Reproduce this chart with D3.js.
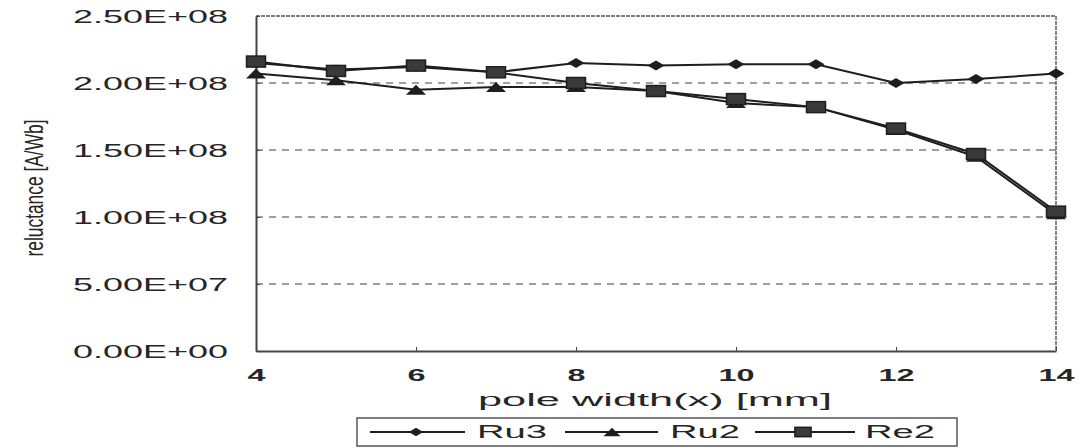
<!DOCTYPE html>
<html>
<head>
<meta charset="utf-8">
<script src="https://cdn.jsdelivr.net/npm/d3@7"></script>
<style>
  html, body { margin: 0; padding: 0; background: #ffffff; }
  svg { display: block; font-family: "Liberation Sans", Arial, sans-serif; }
</style>
</head>
<body>
<svg id="chart" width="1079" height="448"></svg>
<script>
// ---- data ----
const poleWidth = [4, 5, 6, 7, 8, 9, 10, 11, 12, 13, 14];
const ru3 = [2.15e8, 2.10e8, 2.12e8, 2.08e8, 2.15e8, 2.13e8, 2.14e8, 2.14e8, 2.00e8, 2.03e8, 2.07e8];
const ru2 = [2.07e8, 2.02e8, 1.95e8, 1.97e8, 1.97e8, 1.94e8, 1.85e8, 1.82e8, 1.65e8, 1.45e8, 1.02e8];
const re2 = [2.16e8, 2.09e8, 2.13e8, 2.08e8, 2.00e8, 1.94e8, 1.88e8, 1.82e8, 1.66e8, 1.47e8, 1.04e8];
const seriesNames = ["Ru3", "Ru2", "Re2"];
const yTicks = [0, 5e7, 1e8, 1.5e8, 2e8, 2.5e8];
const xTicks = [4, 6, 8, 10, 12, 14];
const yGridTicks = [5e7, 1e8, 1.5e8, 2e8];

// ---- layout ----
const svg = d3.select("#chart");
const plot = { left: 256, top: 16, right: 1056, bottom: 351 };
const x = d3.scaleLinear().domain([4, 14]).range([plot.left, plot.right]);
const y = d3.scaleLinear().domain([0, 2.5e8]).range([plot.bottom, plot.top]);
const ink = "#1e1e1e";
const textInk = "#262626";

function fmtE(v) {
  const [m, e] = v.toExponential(2).split("e");
  const sign = e[0] === "-" ? "-" : "+";
  const digits = e.replace(/[+-]/, "").padStart(2, "0");
  return m + "E" + sign + digits;
}

// gridlines
svg.append("g").selectAll("line").data(yGridTicks).join("line")
  .attr("x1", plot.left).attr("x2", plot.right)
  .attr("y1", d => y(d)).attr("y2", d => y(d))
  .attr("stroke", "#808080").attr("stroke-width", 1.6)
  .attr("stroke-dasharray", "7,6");

// frame (top/right)
svg.append("line").attr("x1", plot.left).attr("x2", plot.right)
  .attr("y1", plot.top).attr("y2", plot.top)
  .attr("stroke", "#555").attr("stroke-width", 1.4).attr("stroke-dasharray", "4,1");
svg.append("line").attr("x1", plot.right).attr("x2", plot.right)
  .attr("y1", plot.top).attr("y2", plot.bottom)
  .attr("stroke", "#555").attr("stroke-width", 1.4).attr("stroke-dasharray", "4,1");

// y axis
const yAxis = svg.append("g").attr("transform", `translate(${plot.left},0)`)
  .call(d3.axisLeft(y).tickValues(yTicks).tickFormat(fmtE).tickSizeInner(-4).tickSizeOuter(0).tickPadding(28));
yAxis.select(".domain").attr("stroke", "#444").attr("stroke-width", 2);
yAxis.selectAll(".tick line").attr("stroke", "#444");
yAxis.selectAll("text")
  .attr("font-size", 17.5).attr("fill", textInk)
  .attr("textLength", 155).attr("lengthAdjust", "spacingAndGlyphs")
  .attr("text-anchor", "start").attr("x", -28 - 155).attr("dy", "0.36em");

// x axis
const xAxis = svg.append("g").attr("transform", `translate(0,${plot.bottom})`)
  .call(d3.axisBottom(x).tickValues(xTicks).tickFormat(d3.format("d")).tickSizeInner(-4).tickSizeOuter(0).tickPadding(0));
xAxis.select(".domain").attr("stroke", "#444").attr("stroke-width", 2);
xAxis.selectAll(".tick line").attr("stroke", "#444");
xAxis.selectAll("text")
  .attr("font-size", 16).attr("fill", textInk).attr("font-weight", "bold")
  .attr("y", 24).attr("dy", "0.36em")
  .attr("textLength", d => String(d).length * 18)
  .attr("lengthAdjust", "spacingAndGlyphs");

// axis titles
svg.append("text")
  .attr("x", 655).attr("y", 400).attr("dy", "0.36em")
  .attr("text-anchor", "middle").attr("font-size", 18).attr("fill", textInk)
  .attr("textLength", 354).attr("lengthAdjust", "spacingAndGlyphs")
  .text("pole width(x) [mm]");

svg.append("g").attr("transform", "translate(34,188) scale(1.6,1) rotate(-90)")
  .append("text")
  .attr("text-anchor", "middle").attr("dy", "0.36em")
  .attr("font-size", 16).attr("fill", textInk)
  .attr("textLength", 137).attr("lengthAdjust", "spacingAndGlyphs")
  .text("reluctance [A/Wb]");

// markers
function drawMarker(g, type, cx, cy, scale) {
  const s = scale || 1;
  if (type === "diamond") {
    const w = 8.5 * s, h = 5 * s;
    g.append("path").attr("d", `M${cx - w},${cy}L${cx},${cy - h}L${cx + w},${cy}L${cx},${cy + h}Z`).attr("fill", ink);
  } else if (type === "triangle") {
    const w = 10 * s, h = 10 * s;
    g.append("path").attr("d", `M${cx - w},${cy + h / 2}L${cx},${cy - h / 2}L${cx + w},${cy + h / 2}Z`).attr("fill", ink);
  } else {
    const w = 9.5 * s, h = 5.5 * s;
    g.append("rect").attr("x", cx - w).attr("y", cy - h).attr("width", 2 * w).attr("height", 2 * h)
      .attr("fill", "#3a3a3a").attr("stroke", ink).attr("stroke-width", 1.5);
  }
}

const series = [
  { name: seriesNames[0], values: ru3, marker: "diamond" },
  { name: seriesNames[1], values: ru2, marker: "triangle" },
  { name: seriesNames[2], values: re2, marker: "square" }
];

const line = d3.line().x(d => x(d[0])).y(d => y(d[1]));
series.forEach(s => {
  const pts = poleWidth.map((p, i) => [p, s.values[i]]);
  svg.append("path").datum(pts).attr("d", line)
    .attr("fill", "none").attr("stroke", ink).attr("stroke-width", 2);
});
series.forEach(s => {
  const g = svg.append("g");
  poleWidth.forEach((p, i) => drawMarker(g, s.marker, x(p), y(s.values[i]), 1));
});

// legend
const legend = svg.append("g");
legend.append("rect").attr("x", 357).attr("y", 418).attr("width", 600).attr("height", 28)
  .attr("fill", "#fff").attr("stroke", "#555").attr("stroke-width", 1.5);
const legendItems = [
  { l0: 370, l1: 465, m: 416, t: 477 },
  { l0: 565, l1: 658, m: 612, t: 670 },
  { l0: 755, l1: 855, m: 803, t: 865 }
];
series.forEach((s, i) => {
  const it = legendItems[i];
  const cy = 432;
  legend.append("line").attr("x1", it.l0).attr("x2", it.l1).attr("y1", cy).attr("y2", cy)
    .attr("stroke", ink).attr("stroke-width", 2);
  drawMarker(legend, s.marker, it.m, cy, 0.85);
  legend.append("text").attr("x", it.t).attr("y", cy).attr("dy", "0.36em")
    .attr("font-size", 18).attr("fill", textInk)
    .attr("textLength", 70).attr("lengthAdjust", "spacingAndGlyphs")
    .text(s.name);
});
</script>
</body>
</html>
